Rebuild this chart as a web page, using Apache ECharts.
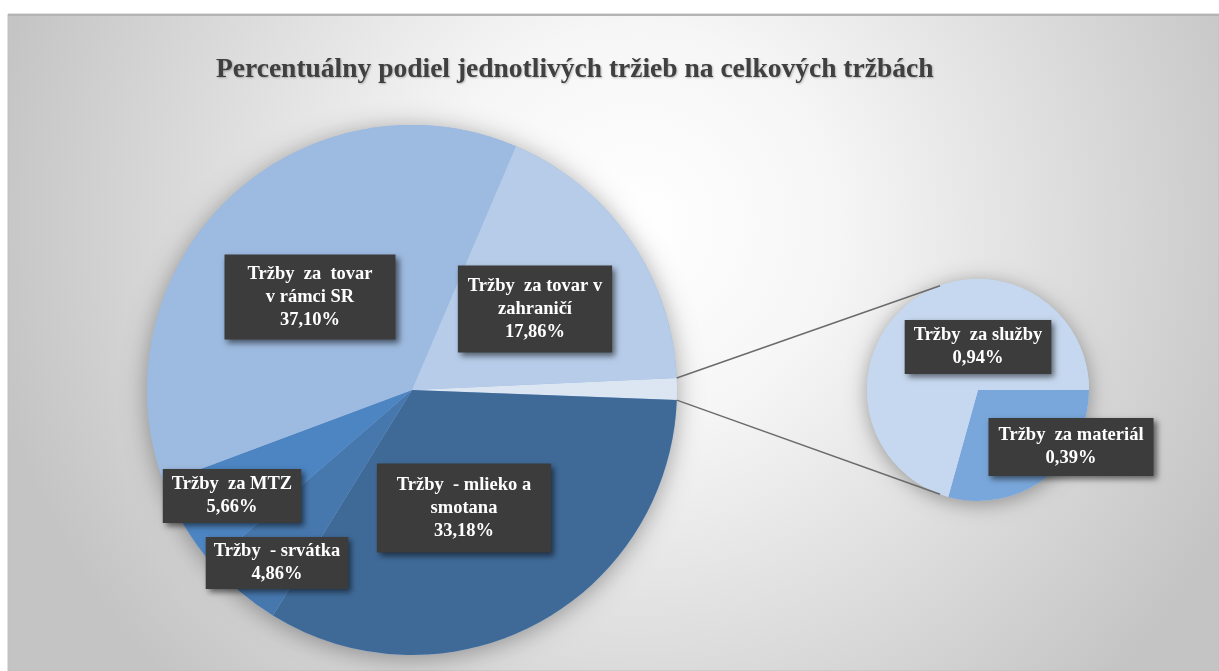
<!DOCTYPE html>
<html><head><meta charset="utf-8">
<script src="https://cdn.jsdelivr.net/npm/echarts@6/dist/echarts.min.js"></script>
<style>html,body{margin:0;padding:0;background:#fff}#c{width:1219px;height:671px}</style>
</head><body><div id="c"></div>
<script>
// ---- data ----
const chartTitle = 'Percentuálny podiel jednotlivých tržieb na celkových tržbách';
const mainNames = ['Tržby  - mlieko a\nsmotana', 'Tržby  - srvátka', 'Tržby  za MTZ', 'Tržby  za  tovar\nv rámci SR', 'Tržby  za tovar v\nzahraničí'];
const mainValues = [33.18, 4.86, 5.66, 37.10, 17.86];
const subNames = ['Tržby  za materiál', 'Tržby  za služby'];
const subValues = [0.39, 0.94];
const otherName = 'Ostatné';

// ---- styling / layout ----
const mainColors = ['#3F6A98', '#4677AD', '#4C85C2', '#9DBAE0', '#B6CCE8'];
const otherColor = '#DCE6F3';
const subColors = ['#79A7DB', '#C6D8EF'];
const mainCenter = [412, 390], mainR = 265;
const subCenter = [978, 390], subR = 111;
const mainStart = 2.6;
const mainLabelPos = [null, [464, 508], [277, 563], [232, 496], [310, 297], [535, 309]];
const mainLabelPad = [null, [10, 20, 10, 20], [3, 8, 3, 8], [4, 9, 4, 9], [8, 23, 8, 23], [9, 10, 9, 10]];
const subLabelPos = [[1071, 447], [978, 347]];
const subLabelPad = [[6, 10, 6, 10], [4, 9, 4, 9]];

const otherValue = subValues.reduce((a, b) => a + b, 0);
const total = mainValues.reduce((a, b) => a + b, 0) + otherValue;
const fmt = v => v.toFixed(2).replace('.', ',') + '%';

const labelBase = {
  show: true, position: 'inside', color: '#fff', fontFamily: 'Liberation Serif',
  fontWeight: 'bold', fontSize: 18.5, lineHeight: 23, backgroundColor: '#3c3c3c',
  shadowColor: 'rgba(0,0,0,0.55)', shadowBlur: 6, shadowOffsetX: 3, shadowOffsetY: 3,
  align: 'center', verticalAlign: 'middle'
};

const mainData = [{ name: otherName, value: otherValue, itemStyle: { color: otherColor }, label: { show: false } }]
  .concat(mainNames.map((n, i) => ({
    name: n, value: mainValues[i], itemStyle: { color: mainColors[i] },
    label: Object.assign({}, labelBase, { padding: mainLabelPad[i + 1], formatter: p => p.name + '\n' + fmt(p.value) })
  })));
const subData = subNames.map((n, i) => ({
  name: n, value: subValues[i], itemStyle: { color: subColors[i] },
  label: Object.assign({}, labelBase, { padding: subLabelPad[i], formatter: p => p.name + '\n' + fmt(p.value) })
}));

// connector lines from the "other" slice edges to the secondary pie
const rad = d => d * Math.PI / 180;
const a1 = mainStart, a2 = mainStart - otherValue / total * 360;
const pt = (c, r, a) => [c[0] + r * Math.cos(rad(a)), c[1] - r * Math.sin(rad(a))];
const p1 = pt(mainCenter, mainR, a1), p2 = pt(mainCenter, mainR, a2);
const q1 = pt(subCenter, subR, 110), q2 = pt(subCenter, subR, -110);

const chart = echarts.init(document.getElementById('c'), null, { renderer: 'canvas' });
chart.setOption({
  backgroundColor: '#ffffff',
  animation: false,
  title: {
    text: chartTitle, left: 211, top: 51,
    textStyle: { fontFamily: 'Liberation Serif', fontWeight: 'bold', fontSize: 27.5, color: '#404040',
      textShadowColor: 'rgba(0,0,0,0.25)', textShadowBlur: 2, textShadowOffsetX: 1, textShadowOffsetY: 1 }
  },
  graphic: [
    { type: 'rect', z: -100, silent: true, shape: { x: 8, y: 14, width: 1211, height: 657 },
      style: { fill: { type: 'radial', x: 0.52, y: 0.32, r: 1.0, colorStops: [
        { offset: 0, color: '#ffffff' }, { offset: 0.3, color: '#f6f6f6' }, { offset: 1, color: '#c4c4c4' }] },
        stroke: '#c0c0c0', lineWidth: 1 } },
    { type: 'line', z: -99, silent: true, shape: { x1: 8, y1: 15, x2: 1219, y2: 15 }, style: { stroke: '#b4b4b4', lineWidth: 2 } },
    { type: 'line', z: 10, silent: true, shape: { x1: p1[0], y1: p1[1], x2: q1[0], y2: q1[1] }, style: { stroke: '#6b6b6b', lineWidth: 1.5 } },
    { type: 'line', z: 10, silent: true, shape: { x1: p2[0], y1: p2[1], x2: q2[0], y2: q2[1] }, style: { stroke: '#6b6b6b', lineWidth: 1.5 } }
  ],
  series: [
    { type: 'pie', silent: true, z: 1, center: mainCenter, radius: mainR, label: { show: false }, labelLine: { show: false },
      data: [{ value: 1, itemStyle: { color: '#9DBAE0', shadowColor: 'rgba(0,0,0,0.35)', shadowBlur: 25, shadowOffsetY: 3 } }] },
    { type: 'pie', silent: true, z: 1, center: subCenter, radius: subR, label: { show: false }, labelLine: { show: false },
      data: [{ value: 1, itemStyle: { color: '#C6D8EF', shadowColor: 'rgba(0,0,0,0.35)', shadowBlur: 20, shadowOffsetY: 3 } }] },
    { type: 'pie', z: 3, silent: true, center: mainCenter, radius: mainR, startAngle: mainStart, clockwise: true,
      minAngle: 0, avoidLabelOverlap: false, labelLine: { show: false }, data: mainData,
      labelLayout: p => { const q = mainLabelPos[p.dataIndex]; return q ? { x: q[0], y: q[1] } : {}; } },
    { type: 'pie', z: 3, silent: true, center: subCenter, radius: subR, startAngle: 0, clockwise: true,
      avoidLabelOverlap: false, labelLine: { show: false }, data: subData,
      labelLayout: p => { const q = subLabelPos[p.dataIndex]; return { x: q[0], y: q[1] }; } }
  ]
});
</script></body></html>
